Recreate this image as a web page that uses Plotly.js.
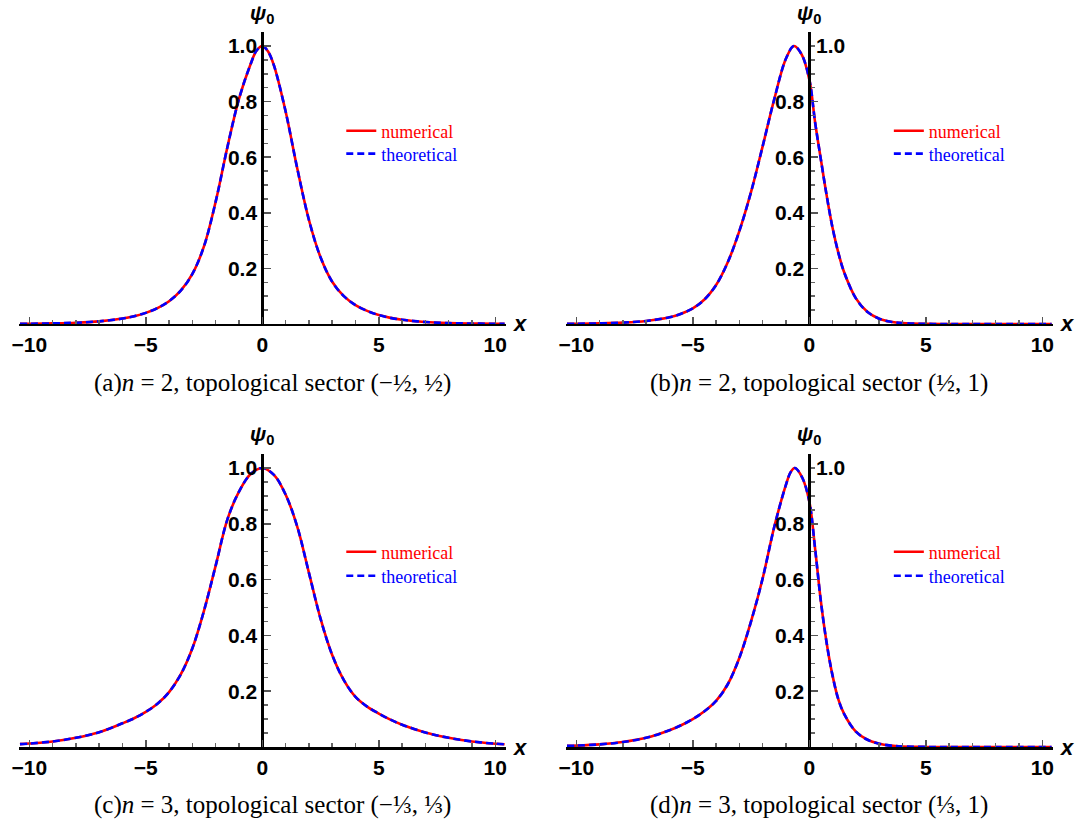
<!DOCTYPE html>
<html>
<head>
<meta charset="utf-8">
<script src="https://cdn.plot.ly/plotly-3.0.1.min.js"></script>
<style>
body { margin: 0; background: #fff; }
#plot { width: 1080px; height: 825px; }
</style>
</head>
<body>
<div id="plot"></div>
<script>
// psi_0
var xA = [-10.4,-10,-9,-8,-7,-6,-5.5,-5,-4.5,-4,-3.5,-3,-2.5,-2,-1.5,-1,-0.5,-0.25,0,0.25,0.5,1,1.5,2,2.5,3,3.5,4,4.5,5,5.5,6,7,8,9,10,10.4];
var psiA = [0.0007,0.001,0.0022,0.0046,0.0095,0.0195,0.028,0.04,0.057,0.082,0.12,0.18,0.28,0.44,0.635,0.81,0.935,0.983,1.0,0.98,0.93,0.765,0.56,0.375,0.24,0.152,0.1,0.068,0.047,0.032,0.022,0.015,0.007,0.0032,0.0015,0.0007,0.0005];

var xB = [-10.4,-10,-9,-8,-7,-6,-5.5,-5,-4.5,-4,-3.5,-3,-2.5,-2,-1.5,-1,-0.66,-0.33,0,0.25,0.5,0.75,1,1.25,1.5,2,2.5,3,3.5,4,5,6,8,10.4];
var psiB = [0.0007,0.001,0.0022,0.005,0.011,0.024,0.037,0.056,0.088,0.14,0.222,0.335,0.475,0.64,0.81,0.955,1.0,0.97,0.88,0.725,0.59,0.46,0.345,0.255,0.185,0.092,0.043,0.019,0.008,0.0032,0.0005,0.0001,0,0];

var xC = [-10.4,-10,-9,-8,-7,-6,-5.5,-5,-4.5,-4,-3.5,-3,-2.5,-2,-1.5,-1,-0.5,0,0.5,1,1.5,2,2.5,3,3.5,4,4.5,5,5.5,6,7,8,9,10,10.4];
var psiC = [0.0105,0.0125,0.02,0.033,0.053,0.085,0.103,0.126,0.155,0.197,0.26,0.354,0.489,0.65,0.815,0.915,0.978,1.0,0.975,0.905,0.79,0.625,0.46,0.33,0.24,0.18,0.145,0.12,0.098,0.08,0.052,0.033,0.02,0.012,0.01];

var xD = [-10.4,-10,-9,-8,-7,-6,-5.5,-5,-4.5,-4,-3.5,-3,-2.5,-2,-1.5,-1,-0.8,-0.62,-0.3,0,0.25,0.5,0.75,1,1.25,1.5,2,2.5,3,3.5,4,5,6,8,10.4];
var psiD = [0.004,0.005,0.0095,0.018,0.033,0.06,0.078,0.10,0.128,0.165,0.225,0.32,0.45,0.605,0.79,0.94,0.985,1.0,0.965,0.88,0.71,0.52,0.37,0.255,0.17,0.118,0.055,0.026,0.012,0.005,0.002,0.0004,0.0001,0,0];

var captions = [
  '(a)<i>n</i> = 2, topological sector (\u2212\u00bd, \u00bd)',
  '(b)<i>n</i> = 2, topological sector (\u00bd, 1)',
  '(c)<i>n</i> = 3, topological sector (\u2212\u2153, \u2153)',
  '(d)<i>n</i> = 3, topological sector (\u2153, 1)'
];
var xTicks = [-10, -5, 0, 5, 10];
var xTickText = ['\u221210', '\u22125', '0', '5', '10'];
var yTicks = [0.2, 0.4, 0.6, 0.8, 1.0];
var yTickText = ['0.2', '0.4', '0.6', '0.8', '1.0'];
var seriesNames = ['numerical', 'theoretical'];
var seriesColors = ['#ff0000', '#0000ff'];

var panels = [[xA, psiA], [xB, psiB], [xC, psiC], [xD, psiD]];

var xDomains = [[0.0174, 0.4683], [0.5239, 0.9748]];
var yDomains = [[0.6073, 0.9611], [0.0945, 0.4497]];
var yAxisPos = [0.2429, 0.7494];
var legendX = [0.316, 0.823];
var legendY = [[0.8636, 0.8358], [0.3533, 0.3242]];

var tickFont = {family: 'Liberation Sans, Arial, sans-serif', size: 21, color: '#000', weight: 'bold'};
var serif = 'Liberation Serif, Times New Roman, serif';

var data = [];
var layout = {
  width: 1080, height: 825,
  margin: {l: 0, r: 0, t: 0, b: 0},
  paper_bgcolor: '#fff', plot_bgcolor: '#fff',
  showlegend: true,
  annotations: []
};

panels.forEach(function (p, i) {
  var col = i % 2, row = Math.floor(i / 2);
  var n = i === 0 ? '' : String(i + 1);

  // one legend per entry so each label keeps its own colour
  for (var s = 0; s < 2; s++) {
    var k = i + 1 + 4 * s;
    var leg = k === 1 ? 'legend' : 'legend' + k;
    var line = {color: seriesColors[s], width: 2.6, shape: 'spline', smoothing: 1};
    if (s === 1) line.dash = '7px,4px';
    data.push({
      x: p[0], y: p[1], mode: 'lines', xaxis: 'x' + n, yaxis: 'y' + n,
      legend: leg, name: seriesNames[s], line: line
    });
    layout[leg] = {
      x: legendX[col], y: legendY[row][s], xanchor: 'left', yanchor: 'top',
      bgcolor: 'rgba(0,0,0,0)', borderwidth: 0,
      font: {family: serif, size: 18, color: seriesColors[s]},
      itemclick: false, itemdoubleclick: false
    };
  }

  // in the right panels the 1.0 label sits right of the axis (annotation below)
  var yVals = col === 1 ? yTicks.slice(0, 4) : yTicks;
  var yText = col === 1 ? yTickText.slice(0, 4) : yTickText;

  layout['xaxis' + n] = {
    domain: xDomains[col], range: [-10.45, 10.45], anchor: 'y' + n,
    showline: true, linecolor: '#000', linewidth: 2.5,
    showgrid: false, zeroline: false,
    ticks: 'inside', ticklen: 7, tickwidth: 1.5, tickcolor: '#555',
    tickmode: 'array', tickvals: xTicks, ticktext: xTickText, tickfont: tickFont,
    minor: {tickmode: 'linear', tick0: 0, dtick: 1, ticks: 'inside', ticklen: 4, tickwidth: 1.5, tickcolor: '#666'}
  };
  layout['yaxis' + n] = {
    domain: yDomains[row], range: [0, 1.05], anchor: 'free', position: yAxisPos[col],
    showline: true, linecolor: '#000', linewidth: 2.5,
    showgrid: false, zeroline: false,
    ticks: 'inside', ticklen: 7, tickwidth: 1.5, tickcolor: '#555',
    tickmode: 'array', tickvals: yVals, ticktext: yText, tickfont: tickFont,
    minor: {tickmode: 'linear', tick0: 0, dtick: 0.05, ticks: 'inside', ticklen: 4, tickwidth: 1.5, tickcolor: '#666'}
  };

  // axis labels
  layout.annotations.push({
    xref: 'paper', yref: 'paper', x: yAxisPos[col], y: row === 0 ? 0.983 : 0.4727,
    xanchor: 'center', yanchor: 'middle', showarrow: false,
    text: '<b><i>\u03c8</i><sub>0</sub></b>', font: {family: tickFont.family, size: 21, color: '#000'}
  });
  layout.annotations.push({
    xref: 'paper', yref: 'y' + n, x: xDomains[col][1] + 0.005, y: 0,
    xanchor: 'left', yanchor: 'middle', showarrow: false,
    text: '<b><i>x</i></b>', font: {family: tickFont.family, size: 22, color: '#000'}
  });
  layout.annotations.push({
    xref: 'paper', yref: 'paper', x: col === 0 ? 0.2519 : 0.7583, y: row === 0 ? 0.5358 : 0.0242,
    xanchor: 'center', yanchor: 'middle', showarrow: false,
    text: captions[i], font: {family: serif, size: 25, color: '#000'}
  });
  if (col === 1) {
    layout.annotations.push({
      xref: 'paper', yref: 'y' + n, x: yAxisPos[col] + 0.004, y: 1.0,
      xanchor: 'left', yanchor: 'middle', showarrow: false,
      text: yTickText[4], font: tickFont
    });
  }
});

Plotly.newPlot('plot', data, layout, {displayModeBar: false, staticPlot: true});
</script>
</body>
</html>
